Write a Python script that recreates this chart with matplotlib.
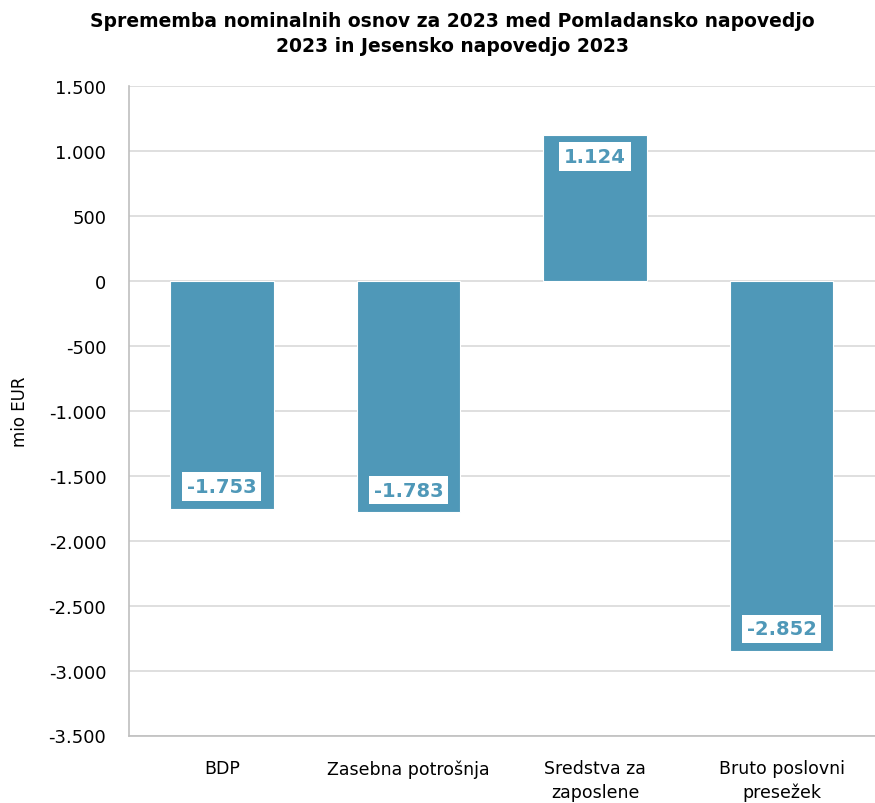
import matplotlib.pyplot as plt
from matplotlib.ticker import FuncFormatter

# Data
categories = ["BDP", "Zasebna potrošnja", "Sredstva za\nzaposlene", "Bruto poslovni\npresežek"]
values = [-1753, -1783, 1124, -2852]
y_ticks = [1500, 1000, 500, 0, -500, -1000, -1500, -2000, -2500, -3000, -3500]

bar_color = "#4F98B8"
grid_color = "#D9D9D9"

fig = plt.figure(figsize=(8.75, 8.04), dpi=100)
ax = fig.add_axes([128.5 / 875, 1 - 736.5 / 804, (875 - 128.5) / 875, (736.5 - 87) / 804])

x = range(len(categories))
bars = ax.bar(x, values, width=0.555, color=bar_color, edgecolor="white", linewidth=0.8, zorder=3)

ax.set_ylim(-3500, 1500)
ax.set_xlim(-0.5, len(categories) - 0.5)
ax.set_yticks(y_ticks)
ax.yaxis.set_major_formatter(FuncFormatter(lambda v, p: f"{int(v):,}".replace(",", ".")))
ax.grid(axis="y", color=grid_color, linewidth=1.2, zorder=0)
ax.set_axisbelow(True)

ax.set_xticks(list(x))
ax.set_xticklabels(categories, fontsize=12.5, linespacing=1.4, va="top")
ax.tick_params(axis="x", length=0, pad=17)
ax.tick_params(axis="y", length=0, pad=16, labelsize=13)

for side in ["top", "right"]:
    ax.spines[side].set_visible(False)
for side in ["left", "bottom"]:
    ax.spines[side].set_color("#BFBFBF")
    ax.spines[side].set_linewidth(1.2)

ax.set_ylabel("mio EUR", fontsize=12, labelpad=14)

# Value labels inside bar ends
for xi, v in zip(x, values):
    offset = 172 if v < 0 else -165
    label = f"{v:,}".replace(",", ".")
    ax.text(xi, v + offset, label, ha="center", va="center", fontsize=14, fontweight="bold",
            color=bar_color, zorder=4,
            bbox=dict(boxstyle="square,pad=0.25", facecolor="white", edgecolor="none"))

fig.suptitle("Sprememba nominalnih osnov za 2023 med Pomladansko napovedjo\n2023 in Jesensko napovedjo 2023",
             x=0.517, y=0.985, fontsize=13.5, fontweight="bold", linespacing=1.4)

fig.savefig("out.png", dpi=100)
